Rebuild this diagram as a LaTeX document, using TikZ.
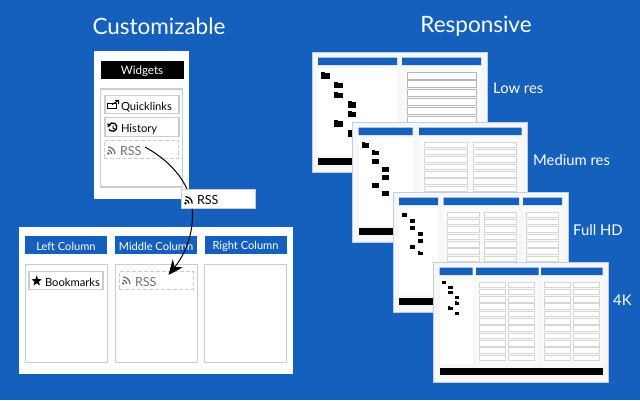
\documentclass[tikz,border=0pt]{standalone}
\usepackage{fontspec}
\setmainfont{Lato}
\usetikzlibrary{arrows.meta,shapes.geometric}
\definecolor{bgblue}{HTML}{1560BD}
\definecolor{boxgray}{HTML}{CCCCCC}
\definecolor{rssgray}{HTML}{707070}
\tikzset{
  title/.style={text=white,font=\fontsize{22.5}{27}\selectfont},
  reslabel/.style={text=white,anchor=west,inner sep=0,font=\fontsize{14.8}{17}\selectfont},
  widget/.style={draw=boxgray,line width=1.2pt,fill=white,minimum width=74pt,minimum height=18.5pt,inner xsep=0,inner ysep=0,text width=74pt,text height=11pt,text depth=0pt,align=left,font=\fontsize{11.2}{14}\selectfont,execute at begin node=\hspace*{16pt}},
  dragged/.style={widget,line width=1pt,dashed,dash pattern=on 4pt off 2pt,text=rssgray,font=\fontsize{12.5}{14}\selectfont},
  colhead/.style={fill=bgblue,text=white,minimum width=82pt,minimum height=18pt,inner sep=0,text height=10pt,text depth=0pt,font=\fontsize{11.1}{14}\selectfont},
  colbox/.style={draw=boxgray,line width=1pt,fill=white,minimum width=82pt,minimum height=98pt,inner sep=0},
  screen/.style={fill=black!3,draw=bgblue!30!white,line width=.5pt},
  bar/.style={fill=bgblue},
  row/.style={fill=white,draw=black!16,line width=1pt},
  rssicon/.pic={
    \fill (1.5,-1.5) circle (1.4pt);
    \draw[line width=1.3pt] (5,-1.2) arc[start angle=0,end angle=90,radius=3.6pt];
    \draw[line width=1.3pt] (8.2,-1.2) arc[start angle=0,end angle=90,radius=6.8pt];
  },
  folder/.pic={
    \fill (-.5,-.28) rectangle (.5,.38);
    \fill (-.5,-.4) rectangle (-.05,-.28);
  }
}
% rows of one screen: columns, row width, height, pitch, last row
\newcommand{\rows}[5]{\foreach \cx in {#1}\foreach \ry in {0,...,#5}\draw[row] (\cx,\ry*#4) rectangle +(#2,#3);}
\begin{document}
\begin{tikzpicture}[x=1pt,y=-1pt,>={Stealth[length=15pt,width=13pt,inset=5pt]}]
\useasboundingbox (0,0) rectangle (640,400);
\fill[bgblue] (0,0) rectangle (640,400);
\node[title] (custom) at (159,26) {Customizable};
\node[title] (resp) at (476,26) {Responsive};

% widgets panel
\fill[white] (94,51) rectangle (189,199);
\node[fill=black,text=white,minimum width=83pt,minimum height=18pt,inner sep=0,text height=9.6pt,text depth=0pt,font=\fontsize{11.6}{14}\selectfont] (widgets) at (142,69.5) {Widgets};
\node[draw=boxgray,line width=1.2pt,minimum width=82pt,minimum height=98pt,inner sep=0] (list) at (141.5,138) {};
\node[widget] (quick) at (142,104.5) {Quicklinks};
\node[widget] (hist) at (142,127) {History};
\node[dragged] (rsssrc) at (141,149.5) {RSS};
\draw[line width=1pt] (107.5,103) rectangle (116,108.8);
\draw[line width=1pt] (112,104.5) -- (118.5,100.5) (115,100.4) -- (118.7,100.4) -- (118.7,104);
\draw[line width=1.3pt] (109,125) arc[start angle=150,end angle=-150,radius=4.2pt];
\fill (107.4,123.2) -- (111,125.2) -- (107.8,127.5) -- cycle;
\draw[line width=1pt] (113,125.5) -- (113,128.3) -- (115,129.3);
\pic[rssgray] at (106.7,155) {rssicon};

% columns panel
\fill[white] (19,227) rectangle (293,374);
\node[colhead] (lefthead) at (66,245) {Left Column};
\node[colhead] (midhead) at (156,245) {Middle Column};
\node[colhead,text height=8pt] (righthead) at (245.5,245) {Right Column};
\node[colbox] (leftcol) at (66,313) {};
\node[colbox] (midcol) at (156,313) {};
\node[colbox] (rightcol) at (245.5,313) {};
\node[widget] (book) at (66,280.5) {Bookmarks};
\node[star,star points=5,star point ratio=2.4,fill=black,minimum size=11pt,inner sep=0] (bookstar) at (36.7,281) {};
\node[dragged] (rssdst) at (156,280.5) {RSS};
\pic[rssgray] at (121.7,285) {rssicon};

% drag arrow
\coordinate (rssout) at (145,147);
\coordinate (rssbend) at (192.5,215);
\coordinate (rssin) at (168.5,275);
\draw[->,line width=1pt] (rssout) .. controls (165,158) and (192.5,180) .. (rssbend) .. controls (192.5,240) and (182,258) .. (rssin);
\node[widget,line width=.8pt,font=\fontsize{12.5}{14}\selectfont] (rssfloat) at (218,199) {RSS};
\pic at (184,204.7) {rssicon};

% screens
\begin{scope}[shift={(312,52)}]
\draw[screen] (0,0) rectangle (175,120);
\fill[white] (6,16) rectangle (85,103);
\fill[black!2] (90,16) rectangle (169,103);
\fill[bar] (6,5.5) rectangle (85,13) (90,5.5) rectangle (169,13);
\fill (6,106) rectangle (169,113);
\begin{scope}[shift={(95,20)},row/.append style={draw=black!28}]\rows{0}{69}{7}{8.9}{8}\end{scope}
\foreach \fx/\fy in {13.7/23.7,26.7/33,26.7/43,40/52.7,40/62,26.7/71.7,40/81.3}\pic[scale=8.5] at (\fx,\fy) {folder};
\end{scope}

\begin{scope}[shift={(352.5,122)}]
\draw[screen] (0,0) rectangle (175,120);
\fill[white] (6,16) rectangle (60,103);
\fill[black!2] (66.5,16) rectangle (169,103);
\fill[bar] (6,5.5) rectangle (60,13) (66.5,5.5) rectangle (169,13);
\fill (6,106) rectangle (169,113);
\begin{scope}[shift={(71.5,20)}]\rows{0,49.5}{43}{5.6}{7.35}{10}\end{scope}
\foreach \fx/\fy in {12.5/23,22.8/30.7,22.8/39.3,32.8/47.3,32.8/55.3,22.8/63.3,32.8/71.3}\pic[scale=7] at (\fx,\fy) {folder};
\end{scope}

\begin{scope}[shift={(393,192)}]
\draw[screen] (0,0) rectangle (175,120);
\fill[white] (6,16) rectangle (45,103);
\fill[black!2] (50.5,16) rectangle (126,103) (130,16) rectangle (169,103);
\fill[bar] (6,5.5) rectangle (45,13) (50.5,5.5) rectangle (126,13) (130,5.5) rectangle (169,13);
\fill (6,106) rectangle (169,113);
\begin{scope}[shift={(54,20)}]\rows{0,37,79}{32}{5.6}{7.35}{10}\end{scope}
\foreach \fx/\fy in {11.3/23,19.7/29,19.7/35.7,27.7/42,27.7/48.7,19.7/55,27.7/61.3}\pic[scale=5.5] at (\fx,\fy) {folder};
\end{scope}

\begin{scope}[shift={(433.5,262)}]
\draw[screen] (0,0) rectangle (175,120);
\fill[white] (6,17) rectangle (39,102);
\fill[black!2] (42.5,17) rectangle (105,102) (107.5,17) rectangle (169,102);
\fill[bar] (6,5.5) rectangle (39,13) (42.5,5.5) rectangle (105,13) (107.5,5.5) rectangle (169,13);
\fill (6,106) rectangle (169,113);
\begin{scope}[shift={(45.5,20)}]\rows{0,29,65,94}{26.5}{5.6}{7.33}{10}\end{scope}
\foreach \fx/\fy in {10.5/20.3,17.2/25.3,17.2/30.7,23.5/35.7,23.5/41,17.2/46,23.5/51.3}\pic[scale=4.5] at (\fx,\fy) {folder};
\end{scope}

\node[reslabel] (lowres) at (493,88.5) {Low res};
\node[reslabel] (medres) at (533,160) {Medium res};
\node[reslabel] (fullhd) at (573,230.3) {Full HD};
\node[reslabel] (fourk) at (613,300.3) {4K};
\end{tikzpicture}
\end{document}
